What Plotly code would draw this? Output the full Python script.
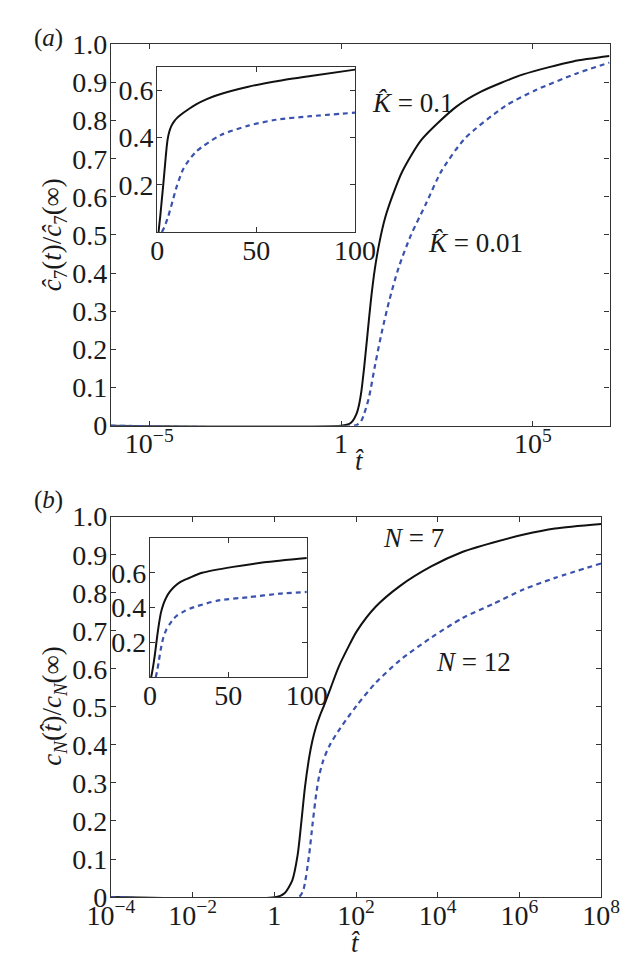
import numpy as np
import plotly.graph_objects as go

# ---------------- data ----------------
# Panel (a): main plot, x = log10(t_hat)
a_logt_k01 = [-6, 0.0, 0.2, 0.3, 0.4, 0.47, 0.53, 0.6, 0.69, 0.78, 0.88, 1.0, 1.15, 1.35, 1.6, 2.1, 3.0, 3.65, 4.75, 6.05, 7.0]
a_val_k01 = [0, 0, 0.004, 0.012, 0.03, 0.055, 0.09, 0.15, 0.24, 0.33, 0.41, 0.48, 0.545, 0.605, 0.667, 0.75, 0.836, 0.876, 0.921, 0.955, 0.969]
a_logt_k001 = [-6, 0.35, 0.5, 0.6, 0.73, 0.89, 1.06, 1.26, 1.50, 1.82, 2.22, 2.62, 3.23, 4.28, 5.08, 6.13, 7.0]
a_val_k001 = [0, 0, 0.008, 0.03, 0.075, 0.16, 0.244, 0.329, 0.414, 0.499, 0.583, 0.668, 0.753, 0.838, 0.880, 0.923, 0.952]

# Panel (a): inset, linear t
ai_t_k01 = [0.6, 1.5, 2.3, 3.1, 4.0, 4.6, 5.2, 6.0, 7.0, 8.5, 10, 12, 15, 19.6, 25, 30.5, 46, 61.8, 77.5, 100]
ai_val_k01 = [0, 0.07, 0.14, 0.21, 0.295, 0.35, 0.392, 0.423, 0.447, 0.468, 0.483, 0.497, 0.515, 0.54, 0.562, 0.58, 0.615, 0.64, 0.66, 0.687]
ai_t_k001 = [2.3, 3.5, 5.5, 7.8, 9.9, 13.3, 19.6, 32, 46, 60, 77.5, 100]
ai_val_k001 = [0, 0.02, 0.066, 0.134, 0.195, 0.27, 0.34, 0.41, 0.45, 0.475, 0.49, 0.505]

# Panel (b): main plot, x = log10(t_hat)
b_logt_n7 = [-4, 0.05, 0.25, 0.44, 0.57, 0.66, 0.75, 0.85, 0.93, 1.02, 1.12, 1.23, 1.38, 1.57, 1.8, 2.02, 2.48, 3.08, 3.84, 4.60, 5.36, 6.11, 6.87, 8.0]
b_val_n7 = [0, 0, 0.01, 0.044, 0.11, 0.196, 0.289, 0.365, 0.41, 0.447, 0.478, 0.507, 0.55, 0.604, 0.655, 0.699, 0.763, 0.818, 0.869, 0.907, 0.932, 0.953, 0.969, 0.981]
b_logt_n12 = [-4, 0.6, 0.71, 0.85, 0.94, 1.03, 1.1, 1.2, 1.35, 1.57, 1.8, 2.02, 2.48, 3.08, 3.84, 4.60, 5.36, 6.11, 6.87, 8.0]
b_val_n12 = [0, 0, 0.019, 0.11, 0.196, 0.275, 0.32, 0.36, 0.398, 0.437, 0.472, 0.504, 0.563, 0.623, 0.682, 0.733, 0.771, 0.809, 0.839, 0.877]

# Panel (b): inset, linear t
bi_t_n7 = [0.8, 2, 3, 4, 5, 6, 7, 8.6, 10.5, 12.6, 15.5, 19.5, 25, 33.3, 53, 72.8, 100]
bi_val_n7 = [0, 0.06, 0.12, 0.19, 0.26, 0.32, 0.37, 0.42, 0.46, 0.49, 0.52, 0.548, 0.57, 0.60, 0.634, 0.66, 0.685]
bi_t_n12 = [3.7, 4.7, 5.7, 7, 8.6, 10.5, 12.6, 15, 17.4, 22, 27.2, 43, 62.9, 82.6, 100]
bi_val_n12 = [0, 0.04, 0.095, 0.165, 0.23, 0.275, 0.305, 0.335, 0.355, 0.38, 0.40, 0.44, 0.46, 0.48, 0.49]

# tick labels
a_xtick_exp = [-5, 0, 5]
a_xtick_text = ["10<sup>\u22125</sup>", "1", "10<sup>5</sup>"]
b_xtick_exp = [-4, -2, 0, 2, 4, 6, 8]
b_xtick_text = ["10<sup>\u22124</sup>", "10<sup>\u22122</sup>", "1", "10<sup>2</sup>",
                "10<sup>4</sup>", "10<sup>6</sup>", "10<sup>8</sup>"]
main_ytick_vals = [0, 0.1, 0.2, 0.3, 0.4, 0.5, 0.6, 0.7, 0.8, 0.9, 1.0]
main_ytick_text = ["0", "0.1", "0.2", "0.3", "0.4", "0.5", "0.6", "0.7", "0.8", "0.9", "1.0"]
inset_ytick_vals = [0.2, 0.4, 0.6]
inset_xtick_vals = [0, 50, 100]

# ---------------- figure ----------------
W, H = 629, 967
BLACK = "#111111"
BLUE = "#3a52ad"
FONT = "Liberation Serif"
TXT = "#1a1a1a"
TICKFONT = dict(family=FONT, size=28, color=TXT)

def px_x(a, b):
    return [a / W, b / W]

def px_y(top, bottom):
    return [1 - bottom / H, 1 - top / H]

fig = go.Figure()

def add_pair(x1, y1, x2, y2, xa, ya, logx):
    if logx:
        x1 = np.power(10.0, x1)
        x2 = np.power(10.0, x2)
    fig.add_trace(go.Scatter(x=x1, y=y1, mode="lines", xaxis=xa, yaxis=ya,
                             line=dict(color=BLACK, width=2, shape="spline", smoothing=0.7),
                             showlegend=False, hoverinfo="skip"))
    fig.add_trace(go.Scatter(x=x2, y=y2, mode="lines", xaxis=xa, yaxis=ya,
                             line=dict(color=BLUE, width=2.2, dash="5px,4px", shape="spline", smoothing=0.7),
                             showlegend=False, hoverinfo="skip"))

add_pair(a_logt_k01, a_val_k01, a_logt_k001, a_val_k001, "x", "y", True)
add_pair(ai_t_k01, ai_val_k01, ai_t_k001, ai_val_k001, "x2", "y2", False)
add_pair(b_logt_n7, b_val_n7, b_logt_n12, b_val_n12, "x3", "y3", True)
add_pair(bi_t_n7, bi_val_n7, bi_t_n12, bi_val_n12, "x4", "y4", False)

axis_common = dict(showline=True, mirror="allticks", linecolor="#333333", linewidth=1.3,
                   ticks="inside", ticklen=5, tickwidth=1.2, tickcolor="#333333",
                   showgrid=False, zeroline=False, tickfont=TICKFONT, fixedrange=True)
xstand = dict(ticklabelstandoff=-7)
ystand = dict(ticklabelstandoff=-3)

fig.update_layout(
    width=W, height=H,
    margin=dict(l=0, r=0, t=0, b=0),
    paper_bgcolor="white", plot_bgcolor="rgba(0,0,0,0)",
    font=dict(family=FONT, color=TXT),
    xaxis=dict(axis_common, **xstand, type="log", range=[-6, 7], domain=px_x(85, 622),
               tickvals=[10.0 ** e for e in a_xtick_exp], ticktext=a_xtick_text, anchor="y"),
    yaxis=dict(axis_common, **ystand, range=[0, 1.0], domain=px_y(22, 416),
               tickvals=main_ytick_vals, ticktext=main_ytick_text, anchor="x"),
    xaxis2=dict(axis_common, **xstand, range=[0, 100], domain=px_x(135, 348),
                tickvals=inset_xtick_vals, anchor="y2"),
    yaxis2=dict(axis_common, **ystand, range=[0, 0.7], domain=px_y(45, 216),
                tickvals=inset_ytick_vals, anchor="x2"),
    xaxis3=dict(axis_common, **xstand, type="log", range=[-4, 8], domain=px_x(85, 613),
                tickvals=[10.0 ** e for e in b_xtick_exp], ticktext=b_xtick_text, anchor="y3"),
    yaxis3=dict(axis_common, **ystand, range=[0, 1.0], domain=px_y(510, 903),
                tickvals=main_ytick_vals, ticktext=main_ytick_text, anchor="x3"),
    xaxis4=dict(axis_common, **xstand, range=[0, 100], domain=px_x(127, 296),
                tickvals=inset_xtick_vals, anchor="y4"),
    yaxis4=dict(axis_common, **ystand, range=[0, 0.8], domain=px_y(532, 676),
                tickvals=inset_ytick_vals, anchor="x4"),
)

for xd, yd in [(px_x(135, 348), px_y(45, 216)), (px_x(127, 296), px_y(532, 676))]:
    fig.add_shape(type="rect", xref="paper", yref="paper", x0=xd[0], x1=xd[1], y0=yd[0], y1=yd[1],
                  fillcolor="white", line=dict(width=0), layer="below")

def ann(text, cx, cy, size=27, angle=0, xanchor="center", yanchor="middle"):
    fig.add_annotation(text=text, x=cx / W, y=1 - cy / H, xref="paper", yref="paper",
                       showarrow=False, textangle=angle, xanchor=xanchor, yanchor=yanchor,
                       font=dict(family=FONT, size=size, color=TXT))

ann("(<i>a</i>)", 0, 15, size=25, xanchor="left")
ann("(<i>b</i>)", 0, 493, size=25, xanchor="left")
ann("<i>K\u0302</i> = 0.1", 410, 83)
ann("<i>K\u0302</i> = 0.01", 478, 227)
ann("<i>N</i> = 7", 411, 532)
ann("<i>N</i> = 12", 476, 660)
ann("<i>t\u0302</i>", 353, 452)
ann("<i>t\u0302</i>", 349, 950)
ann("<i>\u0109</i><sub>7</sub>(<i>t</i>)/<i>\u0109</i><sub>7</sub>(\u221e)", 24, 219, angle=-90)
ann("<i>c<sub>N</sub></i>(<i>t\u0302</i>)/<i>c<sub>N</sub></i>(\u221e)", 24, 706, angle=-90)

fig.write_html("out.html")
